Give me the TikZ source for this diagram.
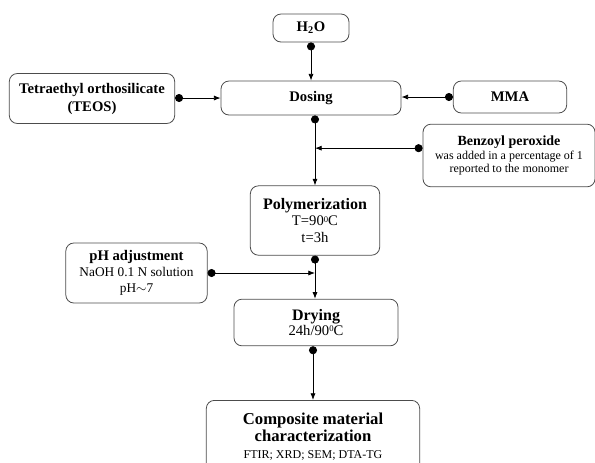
\documentclass[tikz,border=0pt]{standalone}
\usepackage{fontspec}
\setmainfont{Liberation Serif}
\usetikzlibrary{arrows.meta,positioning,calc}

\newcommand{\dego}{\raisebox{0.55ex}{\fontsize{6.5}{6.5}\selectfont 0}}

\begin{document}
\begin{tikzpicture}[x=0.75pt,y=-0.75pt,
box/.style={draw=black!70,rounded corners=6pt,line width=0.6pt,align=center,inner sep=2pt,font=\fontsize{9}{10}\selectfont},
feed/.style={line width=0.6pt,{Circle[length=6pt]}-{Latex[length=5pt,width=3.8pt]}},
ttl/.style={font=\fontsize{11}{13.5}\selectfont\bfseries}]

\useasboundingbox (0,0) rectangle (595,462);
\clip (0,0) rectangle (595,462);

\node[box,ttl,minimum width=57pt,minimum height=21pt] (h2o) at (311,28) {H\textsubscript{2}O};
\node[box,ttl,minimum width=135pt,minimum height=25.5pt] (dos) at (311,98) {Dosing};
\node[box,ttl,minimum width=124pt,minimum height=37.5pt] (teos) at (92,98.5) {Tetraethyl orthosilicate\\(TEOS)};
\node[box,ttl,minimum width=85pt,minimum height=24pt] (mma) at (510,97) {MMA};
\node[box,minimum width=129pt,minimum height=47pt] (benz) at (509,155.5)
  {{\fontsize{10.5}{12}\selectfont\bfseries Benzoyl peroxide}\\was added in a percentage of 1\\reported to the monomer};
\node[box,minimum width=97pt,minimum height=52pt,font=\fontsize{11}{12.5}\selectfont] (poly) at (315,220.5)
  {{\fontsize{12}{14}\selectfont\bfseries Polymerization}\\T=90\dego C\\t=3h};
\node[box,minimum width=106pt,minimum height=45pt,font=\fontsize{10}{12}\selectfont] (ph) at (136.5,273)
  {{\fontsize{11}{12}\selectfont\bfseries pH adjustment}\\NaOH 0.1 N solution\\pH$\sim$7};
\node[box,minimum width=123pt,minimum height=35pt,font=\fontsize{11}{11.5}\selectfont] (dry) at (316,322.5)
  {{\fontsize{12}{13}\selectfont\bfseries Drying}\\24h/90\dego C};
\node[box,anchor=north,minimum width=160pt,inner ysep=9.5pt,text depth=14pt,font=\fontsize{9}{12.75}\selectfont] (comp) at (313,400)
  {{\fontsize{12.5}{12.75}\selectfont\bfseries Composite material}\\{\fontsize{12.5}{12.75}\selectfont\bfseries characterization}\\FTIR; XRD; SEM; DTA-TG};

\draw[feed] (h2o) -- (dos);
\draw[feed] (teos.east |- dos.west) -- (dos.west);
\draw[feed] (mma.west) -- (mma.west -| dos.east);
\draw[feed] (dos.south -| poly.north) -- (poly.north);
\draw[feed] ([yshift=5.5pt]benz.west) -- ([yshift=5.5pt]benz.west -| poly.north);
\draw[feed] (poly.south) -- (poly.south |- dry.north);
\draw[feed] (ph.east) -- (ph.east -| poly.south);
\draw[feed] (dry.south -| comp.north) -- (comp.north);
\end{tikzpicture}
\end{document}
